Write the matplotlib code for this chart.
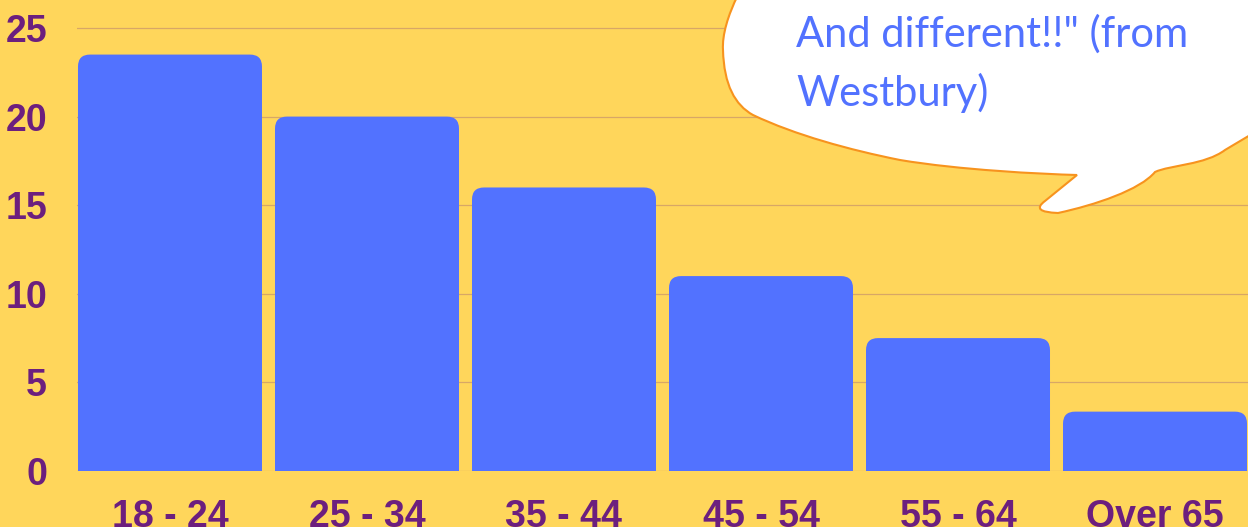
import matplotlib
matplotlib.use("Agg")
import matplotlib.pyplot as plt
from matplotlib.patches import FancyBboxPatch, PathPatch
from matplotlib.path import Path

# data
age_groups = ["18 - 24", "25 - 34", "35 - 44", "45 - 54", "55 - 64", "Over 65"]
counts = [23.5, 20, 16, 11, 7.5, 3.35]
yticks = [0, 5, 10, 15, 20, 25]
quote_lines = ["And different!!\" (from", "Westbury)"]

BG = "#FFD65B"
BAR = "#5272FF"
PURPLE = "#6C1F7E"
GRID = "#D8A766"

W, H = 1248, 527
fig = plt.figure(figsize=(W / 100, H / 100), dpi=100, facecolor=BG)
ax = fig.add_axes([77 / W, 56 / H, 1 - 77 / W, 471 / H], facecolor=BG)

x = list(range(len(counts)))
width = 0.934
ax.set_xlim(-0.472, 5.472)
ax.set_ylim(0, 26.58)

# px per data unit, used for the rounded top corners
px_x = (W - 77) / (5.472 + 0.472)
px_y = 471 / 26.58
r = 12 / px_x
aspect = px_x / px_y

for xi, h in zip(x, counts):
    ax.add_patch(FancyBboxPatch((xi - width / 2, 0), width, h,
                                boxstyle=f"round,pad=0,rounding_size={r}",
                                mutation_aspect=aspect, fc=BAR, ec="none", zorder=3))
ax.bar(x, [h - 1.0 for h in counts], width=width, color=BAR, zorder=3)

for s in ax.spines.values():
    s.set_visible(False)
ax.set_yticks(yticks)
ax.set_xticks(x)
ax.set_xticklabels(age_groups)
ax.yaxis.grid(True, color=GRID, linewidth=0.9, zorder=0)
ax.set_axisbelow(True)
ax.tick_params(axis="both", length=0, labelcolor=PURPLE, labelsize=27)
ax.tick_params(axis="y", pad=21.5)
ax.tick_params(axis="x", pad=20)
for lab in ax.get_xticklabels() + ax.get_yticklabels():
    lab.set_fontweight("bold")
    lab.set_fontfamily("Liberation Sans")

# speech bubble overlay in pixel coords
ov = fig.add_axes([0, 0, 1, 1], facecolor="none")
ov.set_xlim(0, W)
ov.set_ylim(H, 0)
ov.axis("off")
verts = [
    (738, -5),
    (728, 15), (722, 35), (723, 50),
    (724, 85), (735, 105), (753, 115),
    (795, 135), (850, 150), (900, 160),
    (960, 170), (1040, 174), (1077, 175),
    (1045, 201),
    (1030, 212), (1058, 213),
    (1095, 205), (1140, 190), (1155, 172),
    (1170, 165), (1205, 165), (1225, 150),
    (1262, 128),
    (1262, -5),
    (738, -5),
]
codes = [Path.MOVETO] + [Path.CURVE4] * 12 + [Path.LINETO] + [Path.CURVE3] * 2 \
    + [Path.CURVE4] * 6 + [Path.LINETO] * 3
ov.add_patch(PathPatch(Path(verts, codes), fc="white", ec="#F7931E", lw=1.5))
for line, base in zip(quote_lines, [47, 106]):
    ov.text(796, base, line, color=BAR, fontsize=30, family="Lato",
            va="baseline", ha="left")

fig.savefig("out.png", dpi=100, facecolor=BG)
